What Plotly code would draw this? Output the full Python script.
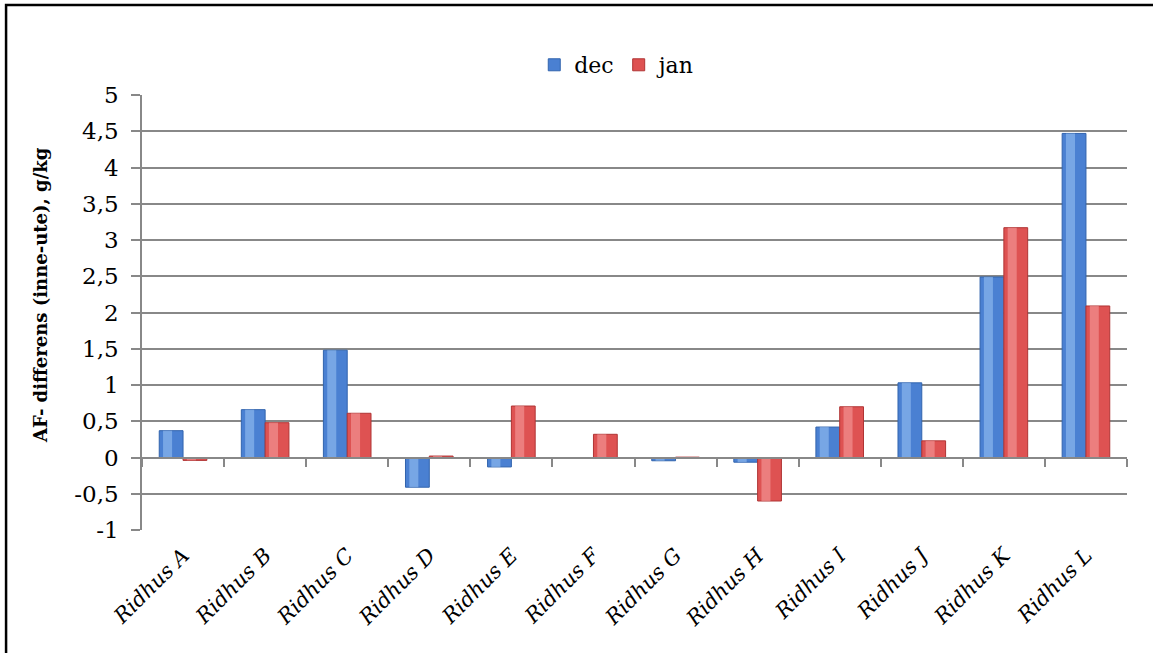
import plotly.graph_objects as go

# Riding halls and the moisture-content difference (indoor minus outdoor), g/kg
categories = ["Ridhus A", "Ridhus B", "Ridhus C", "Ridhus D", "Ridhus E", "Ridhus F",
              "Ridhus G", "Ridhus H", "Ridhus I", "Ridhus J", "Ridhus K", "Ridhus L"]
dec = [0.37, 0.66, 1.48, -0.41, -0.13, -0.005, -0.045, -0.065, 0.42, 1.03, 2.49, 4.47]
jan = [-0.04, 0.48, 0.61, 0.02, 0.71, 0.32, 0.005, -0.60, 0.70, 0.23, 3.17, 2.09]

y_tickvals = [-1, -0.5, 0, 0.5, 1, 1.5, 2, 2.5, 3, 3.5, 4, 4.5, 5]
y_ticktext = ["-1", "-0,5", "0", "0,5", "1", "1,5", "2", "2,5", "3", "3,5", "4", "4,5", "5"]
y_title = "AF- differens (inne-ute), g/kg"

FONT = "DejaVu Serif"
GRID = "#888888"
BAR_W = 0.29

fig = go.Figure()

series = [
    ("dec", dec, -BAR_W, "#4a80d2", "#3264ad", "#9cc4f4"),
    ("jan", jan, 0.0, "#de5252", "#b03434", "#f7a3a3"),
]

for name, vals, off, base, edge, light in series:
    fig.add_trace(go.Bar(
        name=name, x=categories, y=vals, offset=off, width=BAR_W,
        marker=dict(color=base, line=dict(color=edge, width=1)),
        hoverinfo="x+y",
    ))
    # lighter inner band for a bevelled look
    fig.add_trace(go.Bar(
        x=categories, y=vals, offset=off + BAR_W * 0.16, width=BAR_W * 0.38,
        marker=dict(color=light, opacity=0.55, line=dict(width=0)),
        showlegend=False, hoverinfo="skip",
    ))

# helper trace so the tick axis on the zero line knows its categories
fig.add_trace(go.Scatter(
    x=categories, y=[0] * len(categories), xaxis="x2", mode="markers",
    marker=dict(opacity=0), showlegend=False, hoverinfo="skip",
))

fig.update_layout(
    width=1153, height=653,
    margin=dict(l=142, r=26, t=95, b=123),
    paper_bgcolor="white", plot_bgcolor="white",
    barmode="overlay",
    font=dict(family=FONT, size=20, color="black"),
    legend=dict(
        orientation="h", x=0.483, y=1.069, xanchor="center", yanchor="middle",
        font=dict(family=FONT, size=22), itemwidth=30, traceorder="normal",
    ),
    xaxis=dict(
        type="category", categoryorder="array", categoryarray=categories,
        range=[-0.5, 11.5], showgrid=False, showline=False, ticks="",
        tickangle=-45, zeroline=False, ticklabelstandoff=8,
        tickfont=dict(family=FONT, size=21, style="italic"),
    ),
    xaxis2=dict(
        type="category", categoryorder="array", categoryarray=categories,
        range=[-0.5, 11.5], overlaying="x", anchor="free", position=1 / 6,
        showticklabels=False, showgrid=False, showline=True,
        linecolor=GRID, linewidth=2, ticks="outside", tickson="boundaries",
        ticklen=8, tickcolor=GRID, tickwidth=1.5,
    ),
    yaxis=dict(
        range=[-1, 5], tickvals=y_tickvals, ticktext=y_ticktext,
        showgrid=True, gridcolor=GRID, gridwidth=1.5,
        zeroline=False, showline=True, linecolor=GRID, linewidth=1.5,
        ticks="outside", ticklen=9, tickcolor=GRID, tickwidth=1.5,
        ticklabelstandoff=8,
        tickfont=dict(family=FONT, size=23),
    ),
    annotations=[dict(
        text="<b>" + y_title + "</b>", xref="paper", yref="paper",
        x=-0.1036, y=0.54, xanchor="center", yanchor="middle",
        textangle=-90, showarrow=False,
        font=dict(family=FONT, size=18, color="black"),
    )],
    shapes=[dict(
        type="rect", xref="paper", yref="paper",
        x0=-0.138, x1=1.2, y0=-0.5, y1=1.2069,
        line=dict(color="black", width=2.5), fillcolor="rgba(0,0,0,0)",
        layer="above",
    )],
)

fig.write_html("out.html")
